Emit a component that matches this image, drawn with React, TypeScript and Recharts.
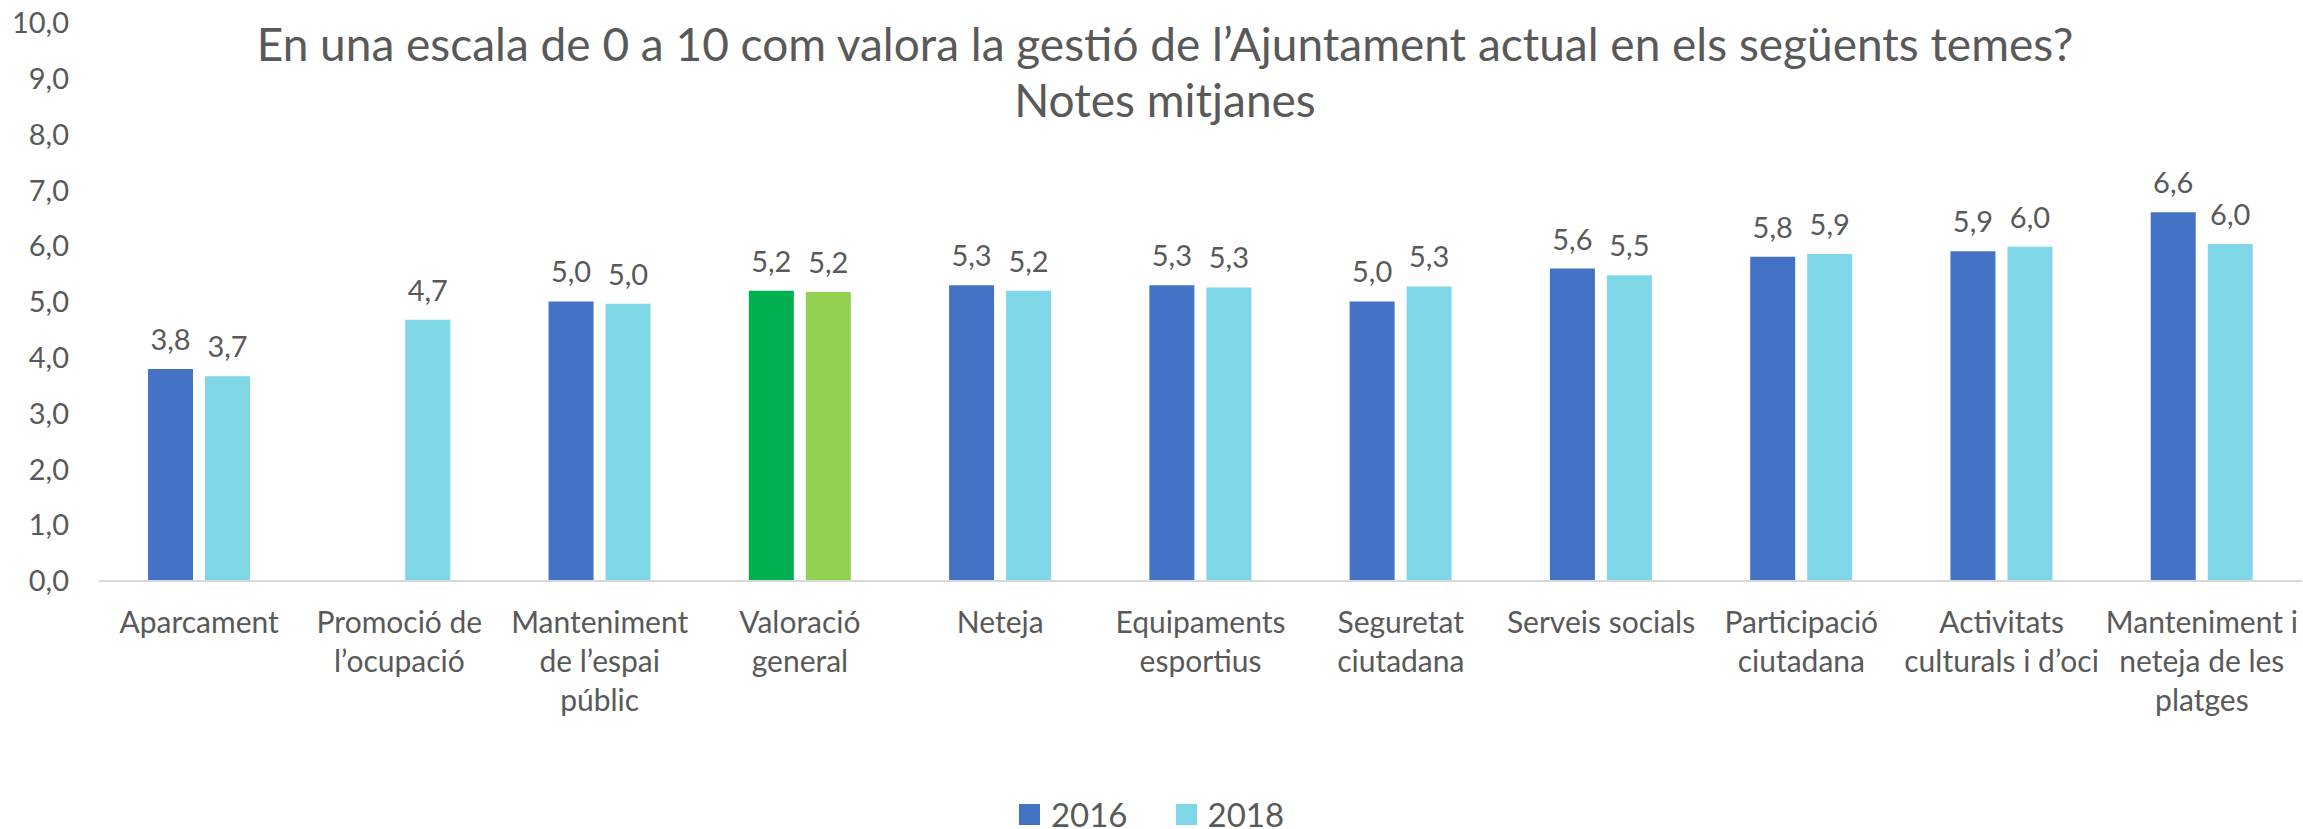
import { BarChart, Bar, XAxis, YAxis, LabelList, Legend, Cell } from 'recharts';

const categories = [
  'Aparcament',
  'Promoció de\nl’ocupació',
  'Manteniment\nde l’espai\npúblic',
  'Valoració\ngeneral',
  'Neteja',
  'Equipaments\nesportius',
  'Seguretat\nciutadana',
  'Serveis socials',
  'Participació\nciutadana',
  'Activitats\nculturals i d’oci',
  'Manteniment i\nneteja de les\nplatges',
];
const values2016 = [3.8, null, 5.01, 5.2, 5.3, 5.3, 5.01, 5.6, 5.81, 5.91, 6.61];
const values2018 = [3.67, 4.68, 4.97, 5.18, 5.2, 5.26, 5.28, 5.48, 5.86, 5.99, 6.04];
const yTicks = [0, 1, 2, 3, 4, 5, 6, 7, 8, 9, 10];
const titleLines = [
  'En una escala de 0 a 10 com valora la gestió de l’Ajuntament actual en els següents temes?',
  'Notes mitjanes',
];
const highlighted = 'Valoració\ngeneral';

const data = categories.map((name, i) => ({
  name,
  v2016: values2016[i],
  v2018: values2018[i],
}));

const FONT = 'Lato, "Open Sans", sans-serif';
const TEXT = '#595959';
const BLUE = '#4472C4';
const CYAN = '#7FD6E6';
const GREEN = '#00B050';
const LIGHT_GREEN = '#92D050';

const fmt = (v: any) => (v === null || v === undefined ? '' : Number(v).toFixed(1).replace('.', ','));

function CategoryTick(props: any) {
  const { x, y, payload } = props;
  const lines = String(payload.value).split('\n');
  return (
    <text x={x} y={y} textAnchor="middle" fill={TEXT} fontSize={30} fontFamily={FONT}>
      {lines.map((line, i) => (
        <tspan key={i} x={x} dy={i === 0 ? 52 : 39}>
          {line}
        </tspan>
      ))}
    </text>
  );
}

function LegendBox(props: any) {
  const items = props.payload || [];
  return (
    <div style={{ display: 'flex', justifyContent: 'center', alignItems: 'center', height: 30 }}>
      {items.map((item: any, i: number) => (
        <div key={i} style={{ display: 'flex', alignItems: 'center', marginLeft: i === 0 ? 0 : 48 }}>
          <div style={{ width: 21, height: 21, background: item.color, marginRight: 11 }} />
          <span style={{ fontFamily: FONT, fontSize: 33, lineHeight: '30px', color: TEXT }}>{item.value}</span>
        </div>
      ))}
    </div>
  );
}

export default function App() {
  return (
    <div style={{ position: 'absolute', left: 0, top: 0, width: 2303, height: 829, background: '#fff', overflow: 'hidden' }}>
      <div
        style={{
          position: 'absolute',
          left: 0,
          top: 16,
          width: 2330,
          textAlign: 'center',
          fontFamily: FONT,
          fontSize: 46,
          lineHeight: '56px',
          color: TEXT,
          zIndex: 2,
        }}
      >
        {titleLines.map((t, i) => (
          <div key={i}>{t}</div>
        ))}
      </div>
      <BarChart
        width={2303}
        height={829}
        data={data}
        margin={{ top: 23, right: 1, left: 0, bottom: 0 }}
        barGap={12}
        barSize={45}
      >
        <YAxis
          domain={[0, 10]}
          ticks={yTicks}
          width={99}
          axisLine={false}
          tickLine={false}
          tickSize={0}
          tickMargin={30}
          tickFormatter={fmt}
          tick={{ fill: TEXT, fontSize: 29, fontFamily: FONT }}
          interval={0}
        />
        <XAxis
          dataKey="name"
          height={248}
          interval={0}
          tickLine={false}
          tickSize={0}
          tickMargin={0}
          axisLine={{ stroke: '#D9D9D9', strokeWidth: 2 }}
          tick={<CategoryTick />}
        />
        <Legend
          layout="horizontal"
          verticalAlign="middle"
          align="center"
          wrapperStyle={{ top: 799, left: 0, width: 2303 }}
          content={<LegendBox />}
        />
        <Bar dataKey="v2016" name="2016" fill={BLUE} isAnimationActive={false}>
          {data.map((d, i) => (
            <Cell key={i} fill={d.name === highlighted ? GREEN : BLUE} />
          ))}
          <LabelList
            dataKey="v2016"
            position="top"
            offset={19}
            formatter={fmt}
            fill={TEXT}
            fontSize={29}
            fontFamily={FONT}
          />
        </Bar>
        <Bar dataKey="v2018" name="2018" fill={CYAN} isAnimationActive={false}>
          {data.map((d, i) => (
            <Cell key={i} fill={d.name === highlighted ? LIGHT_GREEN : CYAN} />
          ))}
          <LabelList
            dataKey="v2018"
            position="top"
            offset={19}
            formatter={fmt}
            fill={TEXT}
            fontSize={29}
            fontFamily={FONT}
          />
        </Bar>
      </BarChart>
    </div>
  );
}
